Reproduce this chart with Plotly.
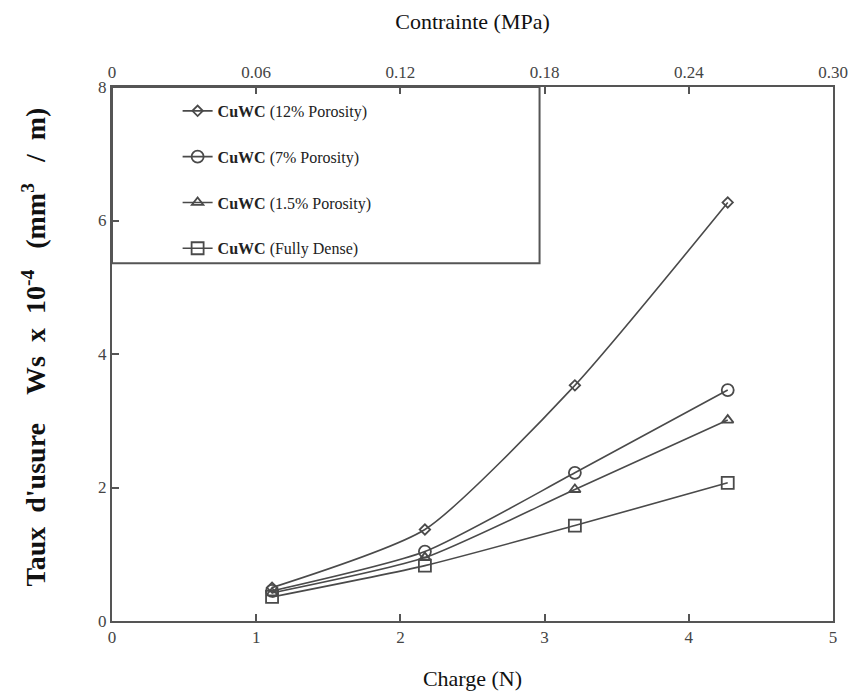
import plotly.graph_objects as go

# Data
charge = [1.11, 2.17, 3.21, 4.27]
wear_12 = [0.50, 1.37, 3.53, 6.27]
wear_7 = [0.45, 1.04, 2.22, 3.46]
wear_15 = [0.42, 0.95, 1.97, 3.01]
wear_dense = [0.36, 0.83, 1.43, 2.07]

series_names = [
    "<b>CuWC</b> (12% Porosity)",
    "<b>CuWC</b> (7% Porosity)",
    "<b>CuWC</b> (1.5% Porosity)",
    "<b>CuWC</b> (Fully Dense)",
]
series_values = [wear_12, wear_7, wear_15, wear_dense]
symbols = ["diamond-open", "circle-open", "triangle-up-open", "square-open"]
sizes = [8, 12, 10, 12]

x_ticks = [0, 1, 2, 3, 4, 5]
y_ticks = [0, 2, 4, 6, 8]
top_ticks = [0, 0.06, 0.12, 0.18, 0.24, 0.30]
top_labels = ["0", "0.06", "0.12", "0.18", "0.24", "0.30"]

SERIF = "Liberation Serif, Times New Roman, serif"
LINE = "#4a4a4a"
SP = "&nbsp;"

fig = go.Figure()
for i, (name, vals) in enumerate(zip(series_names, series_values)):
    fig.add_trace(go.Scatter(
        x=charge, y=vals, name=name, mode="lines+markers",
        line=dict(color=LINE, width=1.6, shape="spline", smoothing=0.6),
        marker=dict(symbol=symbols[i], size=sizes[i], color=LINE,
                    line=dict(color=LINE, width=1.8)),
        legendgroup=f"g{i}",
    ))

# invisible trace for top axis
fig.add_trace(go.Scatter(x=top_ticks, y=[None] * len(top_ticks), xaxis="x2",
                         showlegend=False, hoverinfo="skip"))

axis_common = dict(
    showline=True, linecolor="#555555", linewidth=2, ticks="inside",
    ticklen=7, tickwidth=1.5, tickcolor="#555555", showgrid=False, zeroline=False,
    tickfont=dict(family=SERIF, size=17, color="#444444"),
)

ytitle = ("<b>" + SP * 2 + "Taux" + SP * 2 + "d'usure" + SP * 4 + "Ws" + SP * 2 + "x" + SP * 2 +
          "10<sup>-4</sup>" + SP * 3 + "(mm<sup>3</sup>" + SP * 3 + "/" + SP * 2 + "m)" + "</b>")

fig.update_layout(
    width=860, height=699,
    margin=dict(l=112, r=25, t=87, b=75),
    plot_bgcolor="white", paper_bgcolor="white",
    xaxis=dict(range=[0, 5], tickvals=x_ticks, **axis_common,
               title=dict(text="Charge (N)", font=dict(family=SERIF, size=22, color="#111"),
                          standoff=24)),
    xaxis2=dict(range=[0, 0.30], overlaying="x", side="top", tickvals=top_ticks,
                ticktext=top_labels, **axis_common,
                title=dict(text="Contrainte (MPa)", font=dict(family=SERIF, size=22, color="#111"),
                           standoff=28)),
    yaxis=dict(range=[0, 8], tickvals=y_ticks, mirror=True, **axis_common,
               title=dict(text=ytitle,
                          font=dict(family=SERIF, size=28, color="#111"), standoff=44)),
    legend=dict(x=0.091, y=0.987, xanchor="left", yanchor="top",
                bgcolor="rgba(0,0,0,0)", borderwidth=0, tracegroupgap=22,
                font=dict(family=SERIF, size=16, color="#222")),
    showlegend=True,
    shapes=[dict(type="rect", xref="paper", yref="paper", x0=0, x1=0.593,
                 y0=0.670, y1=1, line=dict(color="#555555", width=2))],
)

fig.write_html("out.html")
